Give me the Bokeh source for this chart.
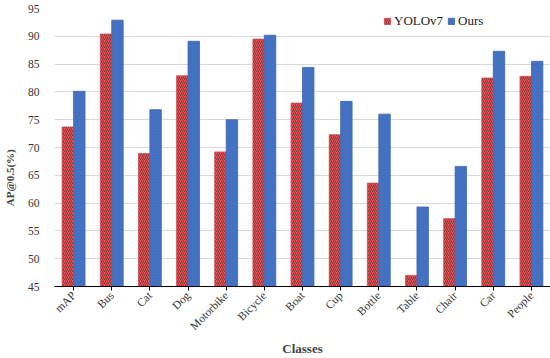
import math
from bokeh.plotting import figure
from bokeh.models import ColumnDataSource, FactorRange, FixedTicker, Legend, LegendItem
from bokeh.transform import dodge
from bokeh.embed import file_html
from bokeh.resources import INLINE

classes = ["mAP", "Bus", "Cat", "Dog", "Motorbike", "Bicycle", "Boat", "Cup",
           "Bottle", "Table", "Chair", "Car", "People"]
yolov7 = [73.7, 90.4, 68.9, 82.9, 69.2, 89.5, 78.0, 72.3, 63.6, 47.0, 57.2, 82.5, 82.8]
ours = [80.1, 92.9, 76.8, 89.1, 75.0, 90.2, 84.4, 78.3, 76.0, 59.3, 66.6, 87.3, 85.5]
y_ticks = [45, 50, 55, 60, 65, 70, 75, 80, 85, 90, 95]

src = ColumnDataSource(dict(cls=classes, yolo=yolov7, ours=ours))

SERIF = "Liberation Serif"
FW, FH = 496, 278

p = figure(x_range=FactorRange(*classes), y_range=(45, 95),
           frame_width=FW, frame_height=FH, output_backend="svg", toolbar_location=None,
           min_border_left=47, min_border_right=7, min_border_top=8, min_border_bottom=72)

r1 = p.vbar(x=dodge("cls", -0.15, range=p.x_range), top="yolo", bottom=45, width=0.3,
            source=src, fill_color="#f0505c", line_color="#d84c55", line_width=0.8,
            hatch_pattern="/", hatch_color="#5e3424", hatch_alpha=0.8,
            hatch_scale=4, hatch_weight=1)
r2 = p.vbar(x=dodge("cls", 0.15, range=p.x_range), top="ours", bottom=45, width=0.3,
            source=src, fill_color="#4674c6", line_color="#3d67b5", line_width=0.8,
            hatch_pattern="/", hatch_color="#3a5fa8", hatch_alpha=0.35,
            hatch_scale=3, hatch_weight=0.8)

legend = Legend(items=[LegendItem(label="YOLOv7", renderers=[r1]),
                       LegendItem(label="Ours", renderers=[r2])],
                orientation="horizontal", location=(329, 257),
                glyph_width=8, glyph_height=8, label_standoff=3, spacing=4,
                padding=2, margin=0, border_line_color=None,
                background_fill_alpha=0,
                label_text_font=SERIF, label_text_font_size="13px",
                label_text_color="#222222", label_height=8)
p.add_layout(legend)

p.outline_line_color = None
p.xgrid.grid_line_color = None
p.ygrid.grid_line_color = "#d9d9d9"
p.ygrid.grid_line_width = 1

p.yaxis.ticker = FixedTicker(ticks=y_ticks)
p.yaxis.axis_line_color = None
p.yaxis.major_tick_line_color = None
p.yaxis.minor_tick_line_color = None
p.yaxis.major_label_standoff = 9
p.yaxis.major_label_text_font = SERIF
p.yaxis.major_label_text_font_size = "11.5px"
p.yaxis.major_label_text_color = "#333333"
# trailing no-break spaces shift the centred title down, as in the original
p.yaxis.axis_label = "AP@0.5(%)" + "\u00a0" * 22
p.yaxis.axis_label_text_font = SERIF
p.yaxis.axis_label_text_font_style = "bold"
p.yaxis.axis_label_text_font_size = "11px"
p.yaxis.axis_label_standoff = 9

p.xaxis.axis_line_color = "#000000"
p.xaxis.axis_line_width = 1
p.xaxis.major_tick_line_color = "#000000"
p.xaxis.major_tick_out = 4
p.xaxis.major_tick_in = 0
p.xaxis.major_label_orientation = math.pi / 4
p.xaxis.major_label_standoff = 3
p.xaxis.major_label_text_font = SERIF
p.xaxis.major_label_text_font_size = "11.5px"
p.xaxis.major_label_text_color = "#333333"
p.xaxis.axis_label = "Classes"
p.xaxis.axis_label_text_font = SERIF
p.xaxis.axis_label_text_font_style = "bold"
p.xaxis.axis_label_text_font_size = "13px"
p.xaxis.axis_label_standoff = 2

open("out.html", "w").write(file_html(p, INLINE))
